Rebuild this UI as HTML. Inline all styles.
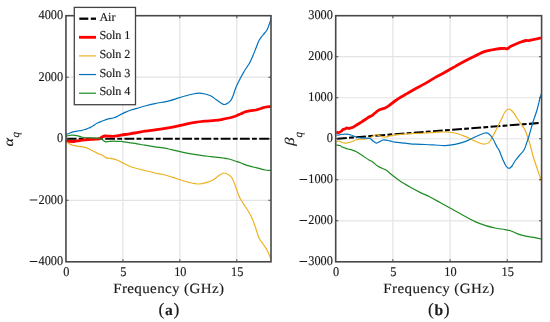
<!DOCTYPE html><html><head><meta charset="utf-8"><style>html,body{margin:0;padding:0;background:#fff;overflow:hidden;}svg{display:block;filter:blur(0.3px);text-rendering:geometricPrecision;}text{font-family:"Liberation Serif",serif;fill:#1a1a1a;stroke:#1a1a1a;stroke-width:0.15px;}</style></head><body>
<svg width="550" height="322" viewBox="0 0 550 322">
<line x1="122.91" y1="15.7" x2="122.91" y2="261.8" stroke="#e3e3e3" stroke-width="1.2"/>
<line x1="179.87" y1="15.7" x2="179.87" y2="261.8" stroke="#e3e3e3" stroke-width="1.2"/>
<line x1="236.82" y1="15.7" x2="236.82" y2="261.8" stroke="#e3e3e3" stroke-width="1.2"/>
<line x1="65.95" y1="77.22" x2="271.0" y2="77.22" stroke="#e3e3e3" stroke-width="1.2"/>
<line x1="65.95" y1="138.75" x2="271.0" y2="138.75" stroke="#e3e3e3" stroke-width="1.2"/>
<line x1="65.95" y1="200.28" x2="271.0" y2="200.28" stroke="#e3e3e3" stroke-width="1.2"/>
<clipPath id="ca"><rect x="65.95" y="15.7" width="205.05" height="246.10"/></clipPath>
<g clip-path="url(#ca)" fill="none" stroke-linejoin="round" stroke-linecap="butt">
<line x1="66.7" y1="138.8" x2="276.0" y2="138.8" stroke="#000" stroke-width="2.1" stroke-dasharray="9.8 2.3 4.8 2.35"/>
<path d="M65.80,141.00 C66.33,141.05 67.97,141.22 69.00,141.30 C70.03,141.38 71.00,141.50 72.00,141.50 C73.00,141.50 74.00,141.42 75.00,141.30 C76.00,141.18 77.00,140.97 78.00,140.80 C79.00,140.63 80.00,140.47 81.00,140.30 C82.00,140.13 82.67,139.93 84.00,139.80 C85.33,139.67 87.33,139.58 89.00,139.50 C90.67,139.42 92.33,139.42 94.00,139.30 C95.67,139.18 97.67,139.18 99.00,138.80 C100.33,138.42 101.00,137.47 102.00,137.00 C103.00,136.53 103.83,136.13 105.00,136.00 C106.17,135.87 107.33,136.17 109.00,136.20 C110.67,136.23 112.33,136.48 115.00,136.20 C117.67,135.92 121.67,135.03 125.00,134.50 C128.33,133.97 131.67,133.55 135.00,133.00 C138.33,132.45 141.67,131.73 145.00,131.20 C148.33,130.67 151.67,130.27 155.00,129.80 C158.33,129.33 161.67,128.93 165.00,128.40 C168.33,127.87 171.67,127.27 175.00,126.60 C178.33,125.93 181.67,125.10 185.00,124.40 C188.33,123.70 191.67,122.93 195.00,122.40 C198.33,121.87 201.67,121.53 205.00,121.20 C208.33,120.87 212.00,120.73 215.00,120.40 C218.00,120.07 220.67,119.60 223.00,119.20 C225.33,118.80 226.83,118.53 229.00,118.00 C231.17,117.47 234.00,116.72 236.00,116.00 C238.00,115.28 239.33,114.42 241.00,113.70 C242.67,112.98 244.33,112.22 246.00,111.70 C247.67,111.18 249.33,110.88 251.00,110.60 C252.67,110.32 254.33,110.35 256.00,110.00 C257.67,109.65 259.33,109.00 261.00,108.50 C262.67,108.00 264.50,107.32 266.00,107.00 C267.50,106.68 269.00,106.70 270.00,106.60 C271.00,106.50 271.67,106.43 272.00,106.40" stroke="#ff0000" stroke-width="2.8"/>
<path d="M65.80,142.30 C66.17,142.42 67.30,142.72 68.00,143.00 C68.70,143.28 69.33,143.67 70.00,144.00 C70.67,144.33 71.33,144.75 72.00,145.00 C72.67,145.25 73.17,145.30 74.00,145.50 C74.83,145.70 76.00,146.03 77.00,146.20 C78.00,146.37 78.83,146.33 80.00,146.50 C81.17,146.67 82.67,146.87 84.00,147.20 C85.33,147.53 86.67,147.95 88.00,148.50 C89.33,149.05 90.67,149.83 92.00,150.50 C93.33,151.17 94.83,151.92 96.00,152.50 C97.17,153.08 98.00,153.58 99.00,154.00 C100.00,154.42 101.00,154.50 102.00,155.00 C103.00,155.50 104.17,156.47 105.00,157.00 C105.83,157.53 106.00,157.97 107.00,158.20 C108.00,158.43 109.33,158.10 111.00,158.40 C112.67,158.70 115.00,159.23 117.00,160.00 C119.00,160.77 121.00,162.00 123.00,163.00 C125.00,164.00 127.00,165.17 129.00,166.00 C131.00,166.83 132.33,167.23 135.00,168.00 C137.67,168.77 141.67,169.77 145.00,170.60 C148.33,171.43 151.67,172.27 155.00,173.00 C158.33,173.73 162.00,174.27 165.00,175.00 C168.00,175.73 170.33,176.57 173.00,177.40 C175.67,178.23 178.33,179.17 181.00,180.00 C183.67,180.83 186.00,181.73 189.00,182.40 C192.00,183.07 196.00,184.00 199.00,184.00 C202.00,184.00 204.67,183.07 207.00,182.40 C209.33,181.73 211.00,181.13 213.00,180.00 C215.00,178.87 217.17,176.77 219.00,175.60 C220.83,174.43 222.33,173.10 224.00,173.00 C225.67,172.90 227.67,174.17 229.00,175.00 C230.33,175.83 231.00,176.33 232.00,178.00 C233.00,179.67 233.83,182.00 235.00,185.00 C236.17,188.00 238.00,193.50 239.00,196.00 C240.00,198.50 240.00,198.33 241.00,200.00 C242.00,201.67 243.33,203.33 245.00,206.00 C246.67,208.67 249.33,212.67 251.00,216.00 C252.67,219.33 253.67,222.33 255.00,226.00 C256.33,229.67 257.67,235.00 259.00,238.00 C260.33,241.00 261.67,242.00 263.00,244.00 C264.33,246.00 265.67,247.50 267.00,250.00 C268.33,252.50 270.17,257.00 271.00,259.00 C271.83,261.00 271.83,261.50 272.00,262.00" stroke="#edb120" stroke-width="1.2"/>
<path d="M65.80,134.50 C66.00,134.42 66.47,134.17 67.00,134.00 C67.53,133.83 68.33,133.75 69.00,133.50 C69.67,133.25 70.33,132.78 71.00,132.50 C71.67,132.22 72.33,131.97 73.00,131.80 C73.67,131.63 74.33,131.60 75.00,131.50 C75.67,131.40 76.33,131.32 77.00,131.20 C77.67,131.08 78.33,130.88 79.00,130.80 C79.67,130.72 80.33,130.83 81.00,130.70 C81.67,130.57 82.33,130.20 83.00,130.00 C83.67,129.80 84.33,129.70 85.00,129.50 C85.67,129.30 86.33,129.05 87.00,128.80 C87.67,128.55 88.33,128.30 89.00,128.00 C89.67,127.70 90.33,127.33 91.00,127.00 C91.67,126.67 92.33,126.40 93.00,126.00 C93.67,125.60 94.33,125.07 95.00,124.60 C95.67,124.13 96.00,123.70 97.00,123.20 C98.00,122.70 99.67,122.13 101.00,121.60 C102.33,121.07 103.67,120.50 105.00,120.00 C106.33,119.50 107.67,118.93 109.00,118.60 C110.33,118.27 111.67,118.33 113.00,118.00 C114.33,117.67 115.67,117.20 117.00,116.60 C118.33,116.00 119.67,115.10 121.00,114.40 C122.33,113.70 123.33,113.13 125.00,112.40 C126.67,111.67 129.00,110.67 131.00,110.00 C133.00,109.33 134.67,109.07 137.00,108.40 C139.33,107.73 142.00,106.80 145.00,106.00 C148.00,105.20 151.67,104.30 155.00,103.60 C158.33,102.90 162.33,102.33 165.00,101.80 C167.67,101.27 169.00,100.97 171.00,100.40 C173.00,99.83 174.67,99.13 177.00,98.40 C179.33,97.67 182.33,96.73 185.00,96.00 C187.67,95.27 190.67,94.47 193.00,94.00 C195.33,93.53 197.00,93.20 199.00,93.20 C201.00,93.20 203.00,93.53 205.00,94.00 C207.00,94.47 209.00,94.95 211.00,96.00 C213.00,97.05 215.33,99.13 217.00,100.30 C218.67,101.47 219.75,102.30 221.00,103.00 C222.25,103.70 223.33,104.50 224.50,104.50 C225.67,104.50 226.92,103.72 228.00,103.00 C229.08,102.28 230.17,101.37 231.00,100.20 C231.83,99.03 232.33,97.70 233.00,96.00 C233.67,94.30 234.33,91.83 235.00,90.00 C235.67,88.17 236.33,86.50 237.00,85.00 C237.67,83.50 238.33,82.33 239.00,81.00 C239.67,79.67 240.33,78.25 241.00,77.00 C241.67,75.75 242.33,74.67 243.00,73.50 C243.67,72.33 244.00,71.58 245.00,70.00 C246.00,68.42 248.00,65.67 249.00,64.00 C250.00,62.33 250.33,61.42 251.00,60.00 C251.67,58.58 252.17,57.50 253.00,55.50 C253.83,53.50 255.00,50.50 256.00,48.00 C257.00,45.50 257.83,42.67 259.00,40.50 C260.17,38.33 261.67,36.75 263.00,35.00 C264.33,33.25 266.00,31.67 267.00,30.00 C268.00,28.33 268.33,26.83 269.00,25.00 C269.67,23.17 270.50,20.50 271.00,19.00 C271.50,17.50 271.83,16.50 272.00,16.00" stroke="#0072bd" stroke-width="1.2"/>
<path d="M65.80,136.20 C66.33,136.08 67.97,135.67 69.00,135.50 C70.03,135.33 71.00,135.23 72.00,135.20 C73.00,135.17 74.00,135.20 75.00,135.30 C76.00,135.40 77.00,135.55 78.00,135.80 C79.00,136.05 80.00,136.52 81.00,136.80 C82.00,137.08 82.67,137.33 84.00,137.50 C85.33,137.67 87.33,137.72 89.00,137.80 C90.67,137.88 92.33,137.93 94.00,138.00 C95.67,138.07 97.67,137.95 99.00,138.20 C100.33,138.45 101.17,139.03 102.00,139.50 C102.83,139.97 103.33,140.62 104.00,141.00 C104.67,141.38 105.17,141.72 106.00,141.80 C106.83,141.88 107.67,141.60 109.00,141.50 C110.33,141.40 112.33,141.20 114.00,141.20 C115.67,141.20 117.83,141.48 119.00,141.50 C120.17,141.52 119.33,141.12 121.00,141.30 C122.67,141.48 126.33,142.18 129.00,142.60 C131.67,143.02 134.33,143.37 137.00,143.80 C139.67,144.23 142.00,144.70 145.00,145.20 C148.00,145.70 151.67,146.30 155.00,146.80 C158.33,147.30 162.33,147.73 165.00,148.20 C167.67,148.67 168.33,149.00 171.00,149.60 C173.67,150.20 177.67,151.10 181.00,151.80 C184.33,152.50 187.67,153.20 191.00,153.80 C194.33,154.40 197.67,154.93 201.00,155.40 C204.33,155.87 207.33,156.17 211.00,156.60 C214.67,157.03 220.00,157.60 223.00,158.00 C226.00,158.40 227.00,158.50 229.00,159.00 C231.00,159.50 233.00,160.33 235.00,161.00 C237.00,161.67 239.00,162.27 241.00,163.00 C243.00,163.73 245.00,164.73 247.00,165.40 C249.00,166.07 251.00,166.50 253.00,167.00 C255.00,167.50 257.00,167.90 259.00,168.40 C261.00,168.90 263.17,169.67 265.00,170.00 C266.83,170.33 268.83,170.30 270.00,170.40 C271.17,170.50 271.67,170.57 272.00,170.60" stroke="#1e8c22" stroke-width="1.2"/>
</g>
<rect x="65.95" y="15.7" width="205.05" height="246.10" fill="none" stroke="#484848" stroke-width="1.6"/>
<line x1="122.91" y1="261.8" x2="122.91" y2="259.2" stroke="#484848" stroke-width="1"/>
<line x1="122.91" y1="15.7" x2="122.91" y2="18.3" stroke="#484848" stroke-width="1"/>
<line x1="179.87" y1="261.8" x2="179.87" y2="259.2" stroke="#484848" stroke-width="1"/>
<line x1="179.87" y1="15.7" x2="179.87" y2="18.3" stroke="#484848" stroke-width="1"/>
<line x1="236.82" y1="261.8" x2="236.82" y2="259.2" stroke="#484848" stroke-width="1"/>
<line x1="236.82" y1="15.7" x2="236.82" y2="18.3" stroke="#484848" stroke-width="1"/>
<line x1="65.95" y1="77.22" x2="68.55" y2="77.22" stroke="#484848" stroke-width="1"/>
<line x1="271.0" y1="77.22" x2="268.4" y2="77.22" stroke="#484848" stroke-width="1"/>
<line x1="65.95" y1="138.75" x2="68.55" y2="138.75" stroke="#484848" stroke-width="1"/>
<line x1="271.0" y1="138.75" x2="268.4" y2="138.75" stroke="#484848" stroke-width="1"/>
<line x1="65.95" y1="200.28" x2="68.55" y2="200.28" stroke="#484848" stroke-width="1"/>
<line x1="271.0" y1="200.28" x2="268.4" y2="200.28" stroke="#484848" stroke-width="1"/>
<text transform="translate(66.35,275.60) scale(1,1.08)" font-size="12.3" text-anchor="middle">0</text>
<text transform="translate(123.31,275.60) scale(1,1.08)" font-size="12.3" text-anchor="middle">5</text>
<text transform="translate(180.27,275.60) scale(1,1.08)" font-size="12.3" text-anchor="middle">10</text>
<text transform="translate(237.22,275.60) scale(1,1.08)" font-size="12.3" text-anchor="middle">15</text>
<text transform="translate(63.15,19.00) scale(1,1.08)" font-size="12.3" text-anchor="end">4000</text>
<text transform="translate(63.15,80.52) scale(1,1.08)" font-size="12.3" text-anchor="end">2000</text>
<text transform="translate(63.15,142.05) scale(1,1.08)" font-size="12.3" text-anchor="end">0</text>
<text transform="translate(63.15,203.58) scale(1,1.08)" font-size="12.3" text-anchor="end">2000</text>
<line x1="29.75" y1="199.98" x2="37.35" y2="199.98" stroke="#1a1a1a" stroke-width="1"/>
<text transform="translate(63.15,265.10) scale(1,1.08)" font-size="12.3" text-anchor="end">4000</text>
<line x1="29.75" y1="261.50" x2="37.35" y2="261.50" stroke="#1a1a1a" stroke-width="1"/>
<text transform="translate(168.78,293.2) scale(1.06,1)" font-size="14.2" letter-spacing="0.35" text-anchor="middle">Frequency (GHz)</text>
<line x1="392.89" y1="15.7" x2="392.89" y2="261.8" stroke="#e3e3e3" stroke-width="1.2"/>
<line x1="450.09" y1="15.7" x2="450.09" y2="261.8" stroke="#e3e3e3" stroke-width="1.2"/>
<line x1="507.28" y1="15.7" x2="507.28" y2="261.8" stroke="#e3e3e3" stroke-width="1.2"/>
<line x1="335.7" y1="56.72" x2="541.6" y2="56.72" stroke="#e3e3e3" stroke-width="1.2"/>
<line x1="335.7" y1="97.73" x2="541.6" y2="97.73" stroke="#e3e3e3" stroke-width="1.2"/>
<line x1="335.7" y1="138.75" x2="541.6" y2="138.75" stroke="#e3e3e3" stroke-width="1.2"/>
<line x1="335.7" y1="179.77" x2="541.6" y2="179.77" stroke="#e3e3e3" stroke-width="1.2"/>
<line x1="335.7" y1="220.78" x2="541.6" y2="220.78" stroke="#e3e3e3" stroke-width="1.2"/>
<clipPath id="cb"><rect x="335.7" y="15.7" width="205.90" height="246.10"/></clipPath>
<g clip-path="url(#cb)" fill="none" stroke-linejoin="round" stroke-linecap="butt">
<line x1="337.0" y1="138.7" x2="546.60" y2="122.46" stroke="#000" stroke-width="2.1" stroke-dasharray="9.8 2.3 4.8 2.35"/>
<path d="M336.30,132.20 C336.75,132.25 338.22,132.62 339.00,132.50 C339.78,132.38 340.33,132.00 341.00,131.50 C341.67,131.00 342.33,129.92 343.00,129.50 C343.67,129.08 344.33,129.25 345.00,129.00 C345.67,128.75 346.33,128.08 347.00,128.00 C347.67,127.92 348.33,128.53 349.00,128.50 C349.67,128.47 350.33,128.02 351.00,127.80 C351.67,127.58 352.33,127.50 353.00,127.20 C353.67,126.90 354.33,126.40 355.00,126.00 C355.67,125.60 356.17,125.30 357.00,124.80 C357.83,124.30 359.00,123.63 360.00,123.00 C361.00,122.37 362.00,121.67 363.00,121.00 C364.00,120.33 365.00,119.67 366.00,119.00 C367.00,118.33 368.00,117.57 369.00,117.00 C370.00,116.43 371.00,116.27 372.00,115.60 C373.00,114.93 373.83,113.93 375.00,113.00 C376.17,112.07 377.33,110.83 379.00,110.00 C380.67,109.17 383.33,108.73 385.00,108.00 C386.67,107.27 387.33,106.77 389.00,105.60 C390.67,104.43 393.00,102.43 395.00,101.00 C397.00,99.57 399.00,98.23 401.00,97.00 C403.00,95.77 404.67,94.93 407.00,93.60 C409.33,92.27 412.00,90.67 415.00,89.00 C418.00,87.33 421.67,85.50 425.00,83.60 C428.33,81.70 431.67,79.50 435.00,77.60 C438.33,75.70 441.67,74.03 445.00,72.20 C448.33,70.37 451.67,68.47 455.00,66.60 C458.33,64.73 461.67,62.77 465.00,61.00 C468.33,59.23 471.67,57.60 475.00,56.00 C478.33,54.40 482.33,52.40 485.00,51.40 C487.67,50.40 489.17,50.38 491.00,50.00 C492.83,49.62 494.33,49.35 496.00,49.10 C497.67,48.85 499.50,48.63 501.00,48.50 C502.50,48.37 504.00,48.25 505.00,48.30 C506.00,48.35 506.33,48.92 507.00,48.80 C507.67,48.68 508.33,48.02 509.00,47.60 C509.67,47.18 509.83,46.90 511.00,46.30 C512.17,45.70 514.33,44.72 516.00,44.00 C517.67,43.28 519.33,42.58 521.00,42.00 C522.67,41.42 524.67,40.73 526.00,40.50 C527.33,40.27 528.00,40.72 529.00,40.60 C530.00,40.48 530.83,40.07 532.00,39.80 C533.17,39.53 534.67,39.27 536.00,39.00 C537.33,38.73 539.00,38.38 540.00,38.20 C541.00,38.02 541.67,37.95 542.00,37.90" stroke="#ff0000" stroke-width="2.8"/>
<path d="M336.30,142.00 C336.75,141.83 338.05,140.92 339.00,141.00 C339.95,141.08 340.83,142.13 342.00,142.50 C343.17,142.87 344.50,143.28 346.00,143.20 C347.50,143.12 349.33,142.53 351.00,142.00 C352.67,141.47 354.33,140.47 356.00,140.00 C357.67,139.53 359.33,139.37 361.00,139.20 C362.67,139.03 364.50,139.20 366.00,139.00 C367.50,138.80 368.67,138.58 370.00,138.00 C371.33,137.42 373.00,136.08 374.00,135.50 C375.00,134.92 375.17,134.50 376.00,134.50 C376.83,134.50 377.83,135.08 379.00,135.50 C380.17,135.92 381.83,136.75 383.00,137.00 C384.17,137.25 384.83,137.17 386.00,137.00 C387.17,136.83 388.50,136.37 390.00,136.00 C391.50,135.63 392.50,135.13 395.00,134.80 C397.50,134.47 401.67,134.22 405.00,134.00 C408.33,133.78 411.67,133.67 415.00,133.50 C418.33,133.33 421.67,133.20 425.00,133.00 C428.33,132.80 431.67,132.47 435.00,132.30 C438.33,132.13 441.67,131.88 445.00,132.00 C448.33,132.12 451.67,132.27 455.00,133.00 C458.33,133.73 461.67,135.07 465.00,136.40 C468.33,137.73 472.00,139.73 475.00,141.00 C478.00,142.27 480.67,143.77 483.00,144.00 C485.33,144.23 487.33,143.73 489.00,142.40 C490.67,141.07 491.67,138.40 493.00,136.00 C494.33,133.60 495.67,130.67 497.00,128.00 C498.33,125.33 499.67,122.67 501.00,120.00 C502.33,117.33 503.67,113.83 505.00,112.00 C506.33,110.17 507.67,109.00 509.00,109.00 C510.33,109.00 511.67,110.50 513.00,112.00 C514.33,113.50 515.67,116.00 517.00,118.00 C518.33,120.00 519.67,122.00 521.00,124.00 C522.33,126.00 523.83,127.67 525.00,130.00 C526.17,132.33 527.00,135.00 528.00,138.00 C529.00,141.00 530.17,145.00 531.00,148.00 C531.83,151.00 532.00,152.67 533.00,156.00 C534.00,159.33 535.67,164.00 537.00,168.00 C538.33,172.00 540.17,177.50 541.00,180.00 C541.83,182.50 541.83,182.50 542.00,183.00" stroke="#edb120" stroke-width="1.2"/>
<path d="M336.30,135.00 C336.75,135.00 338.22,135.08 339.00,135.00 C339.78,134.92 339.83,134.63 341.00,134.50 C342.17,134.37 344.33,134.12 346.00,134.20 C347.67,134.28 349.33,134.53 351.00,135.00 C352.67,135.47 354.33,136.50 356.00,137.00 C357.67,137.50 359.33,137.80 361.00,138.00 C362.67,138.20 364.50,138.12 366.00,138.20 C367.50,138.28 368.83,138.03 370.00,138.50 C371.17,138.97 372.00,140.25 373.00,141.00 C374.00,141.75 375.33,142.67 376.00,143.00 C376.67,143.33 376.50,143.17 377.00,143.00 C377.50,142.83 378.00,142.50 379.00,142.00 C380.00,141.50 381.50,140.25 383.00,140.00 C384.50,139.75 386.67,140.30 388.00,140.50 C389.33,140.70 389.83,140.92 391.00,141.20 C392.17,141.48 392.67,141.87 395.00,142.20 C397.33,142.53 401.67,142.87 405.00,143.20 C408.33,143.53 411.67,143.98 415.00,144.20 C418.33,144.42 421.67,144.37 425.00,144.50 C428.33,144.63 431.67,144.82 435.00,145.00 C438.33,145.18 441.67,145.70 445.00,145.60 C448.33,145.50 451.67,145.07 455.00,144.40 C458.33,143.73 461.67,142.83 465.00,141.60 C468.33,140.37 471.67,138.43 475.00,137.00 C478.33,135.57 482.67,133.50 485.00,133.00 C487.33,132.50 487.67,133.00 489.00,134.00 C490.33,135.00 491.67,136.83 493.00,139.00 C494.33,141.17 496.00,145.17 497.00,147.00 C498.00,148.83 498.00,147.83 499.00,150.00 C500.00,152.17 501.83,157.33 503.00,160.00 C504.17,162.67 505.00,164.60 506.00,166.00 C507.00,167.40 508.00,168.40 509.00,168.40 C510.00,168.40 511.00,167.23 512.00,166.00 C513.00,164.77 513.83,162.67 515.00,161.00 C516.17,159.33 517.50,157.83 519.00,156.00 C520.50,154.17 522.67,152.33 524.00,150.00 C525.33,147.67 526.17,144.33 527.00,142.00 C527.83,139.67 528.00,139.33 529.00,136.00 C530.00,132.67 531.67,126.33 533.00,122.00 C534.33,117.67 535.83,114.00 537.00,110.00 C538.17,106.00 539.33,100.50 540.00,98.00 C540.67,95.50 540.67,96.00 541.00,95.00 C541.33,94.00 541.83,92.50 542.00,92.00" stroke="#0072bd" stroke-width="1.2"/>
<path d="M336.30,145.00 C336.92,145.08 339.05,145.17 340.00,145.50 C340.95,145.83 341.17,146.58 342.00,147.00 C342.83,147.42 344.00,147.67 345.00,148.00 C346.00,148.33 346.83,148.67 348.00,149.00 C349.17,149.33 350.67,149.58 352.00,150.00 C353.33,150.42 354.67,150.83 356.00,151.50 C357.33,152.17 358.83,153.25 360.00,154.00 C361.17,154.75 361.50,155.00 363.00,156.00 C364.50,157.00 367.33,158.97 369.00,160.00 C370.67,161.03 371.67,161.27 373.00,162.20 C374.33,163.13 375.83,164.73 377.00,165.60 C378.17,166.47 378.50,166.67 380.00,167.40 C381.50,168.13 384.00,168.73 386.00,170.00 C388.00,171.27 389.67,173.17 392.00,175.00 C394.33,176.83 397.00,179.00 400.00,181.00 C403.00,183.00 406.67,185.10 410.00,187.00 C413.33,188.90 416.67,190.73 420.00,192.40 C423.33,194.07 426.67,195.32 430.00,197.00 C433.33,198.68 436.67,200.67 440.00,202.50 C443.33,204.33 446.67,206.15 450.00,208.00 C453.33,209.85 456.67,211.77 460.00,213.60 C463.33,215.43 467.50,217.67 470.00,219.00 C472.50,220.33 472.50,220.53 475.00,221.60 C477.50,222.67 481.67,224.33 485.00,225.40 C488.33,226.47 491.67,227.30 495.00,228.00 C498.33,228.70 502.33,229.10 505.00,229.60 C507.67,230.10 508.67,230.20 511.00,231.00 C513.33,231.80 516.33,233.50 519.00,234.40 C521.67,235.30 524.33,235.87 527.00,236.40 C529.67,236.93 532.67,237.17 535.00,237.60 C537.33,238.03 539.83,238.73 541.00,239.00 C542.17,239.27 541.83,239.17 542.00,239.20" stroke="#1e8c22" stroke-width="1.2"/>
</g>
<rect x="335.7" y="15.7" width="205.90" height="246.10" fill="none" stroke="#484848" stroke-width="1.6"/>
<line x1="392.89" y1="261.8" x2="392.89" y2="259.2" stroke="#484848" stroke-width="1"/>
<line x1="392.89" y1="15.7" x2="392.89" y2="18.3" stroke="#484848" stroke-width="1"/>
<line x1="450.09" y1="261.8" x2="450.09" y2="259.2" stroke="#484848" stroke-width="1"/>
<line x1="450.09" y1="15.7" x2="450.09" y2="18.3" stroke="#484848" stroke-width="1"/>
<line x1="507.28" y1="261.8" x2="507.28" y2="259.2" stroke="#484848" stroke-width="1"/>
<line x1="507.28" y1="15.7" x2="507.28" y2="18.3" stroke="#484848" stroke-width="1"/>
<line x1="335.7" y1="56.72" x2="338.3" y2="56.72" stroke="#484848" stroke-width="1"/>
<line x1="541.6" y1="56.72" x2="539.0" y2="56.72" stroke="#484848" stroke-width="1"/>
<line x1="335.7" y1="97.73" x2="338.3" y2="97.73" stroke="#484848" stroke-width="1"/>
<line x1="541.6" y1="97.73" x2="539.0" y2="97.73" stroke="#484848" stroke-width="1"/>
<line x1="335.7" y1="138.75" x2="338.3" y2="138.75" stroke="#484848" stroke-width="1"/>
<line x1="541.6" y1="138.75" x2="539.0" y2="138.75" stroke="#484848" stroke-width="1"/>
<line x1="335.7" y1="179.77" x2="338.3" y2="179.77" stroke="#484848" stroke-width="1"/>
<line x1="541.6" y1="179.77" x2="539.0" y2="179.77" stroke="#484848" stroke-width="1"/>
<line x1="335.7" y1="220.78" x2="338.3" y2="220.78" stroke="#484848" stroke-width="1"/>
<line x1="541.6" y1="220.78" x2="539.0" y2="220.78" stroke="#484848" stroke-width="1"/>
<text transform="translate(336.10,275.60) scale(1,1.08)" font-size="12.3" text-anchor="middle">0</text>
<text transform="translate(393.29,275.60) scale(1,1.08)" font-size="12.3" text-anchor="middle">5</text>
<text transform="translate(450.49,275.60) scale(1,1.08)" font-size="12.3" text-anchor="middle">10</text>
<text transform="translate(507.68,275.60) scale(1,1.08)" font-size="12.3" text-anchor="middle">15</text>
<text transform="translate(332.90,19.00) scale(1,1.08)" font-size="12.3" text-anchor="end">3000</text>
<text transform="translate(332.90,60.02) scale(1,1.08)" font-size="12.3" text-anchor="end">2000</text>
<text transform="translate(332.90,101.03) scale(1,1.08)" font-size="12.3" text-anchor="end">1000</text>
<text transform="translate(332.90,142.05) scale(1,1.08)" font-size="12.3" text-anchor="end">0</text>
<text transform="translate(332.90,183.07) scale(1,1.08)" font-size="12.3" text-anchor="end">1000</text>
<line x1="299.50" y1="179.47" x2="307.10" y2="179.47" stroke="#1a1a1a" stroke-width="1"/>
<text transform="translate(332.90,224.08) scale(1,1.08)" font-size="12.3" text-anchor="end">2000</text>
<line x1="299.50" y1="220.48" x2="307.10" y2="220.48" stroke="#1a1a1a" stroke-width="1"/>
<text transform="translate(332.90,265.10) scale(1,1.08)" font-size="12.3" text-anchor="end">3000</text>
<line x1="299.50" y1="261.50" x2="307.10" y2="261.50" stroke="#1a1a1a" stroke-width="1"/>
<text transform="translate(438.95,293.2) scale(1.06,1)" font-size="14.2" letter-spacing="0.35" text-anchor="middle">Frequency (GHz)</text>
<text transform="translate(12.50,146.60) rotate(-90) scale(1.15,0.97)" font-size="14" font-style="italic">α</text>
<text transform="translate(18.90,137.60) rotate(-90)" font-size="11" font-style="italic">q</text>
<text transform="translate(293.50,145.80) rotate(-90) scale(1.2,0.94)" font-size="14" font-style="italic">β</text>
<text transform="translate(301.60,137.40) rotate(-90)" font-size="11" font-style="italic">q</text>
<text x="158.6" y="314.8" font-size="17.5">(<tspan dx="0.6" font-size="15.5" font-weight="bold">a</tspan><tspan dx="0.6">)</tspan></text>
<text x="428.0" y="314.8" font-size="17.5">(<tspan dx="0.6" font-size="15.5" font-weight="bold">b</tspan><tspan dx="0.6">)</tspan></text>
<rect x="74.3" y="7.4" width="61.2" height="97.3" fill="#fff" stroke="#444" stroke-width="1.3"/>
<line x1="79.3" y1="18.7" x2="88.3" y2="18.7" stroke="#000" stroke-width="2.3"/>
<line x1="90.8" y1="18.7" x2="96" y2="18.7" stroke="#000" stroke-width="2.3"/>
<text x="99.4" y="20.7" font-size="12.2" letter-spacing="-0.1">Air</text>
<line x1="79" y1="37.3" x2="96" y2="37.3" stroke="#ff0000" stroke-width="2.8"/>
<text x="99.4" y="39.3" font-size="12.2" letter-spacing="-0.1">Soln 1</text>
<line x1="79" y1="55.9" x2="96" y2="55.9" stroke="#edb120" stroke-width="1.2"/>
<text x="99.4" y="57.9" font-size="12.2" letter-spacing="-0.1">Soln 2</text>
<line x1="79" y1="74.55" x2="96" y2="74.55" stroke="#0072bd" stroke-width="1.2"/>
<text x="99.4" y="76.5" font-size="12.2" letter-spacing="-0.1">Soln 3</text>
<line x1="79" y1="93.2" x2="96" y2="93.2" stroke="#1e8c22" stroke-width="1.2"/>
<text x="99.4" y="95.2" font-size="12.2" letter-spacing="-0.1">Soln 4</text>
</svg></body></html>
